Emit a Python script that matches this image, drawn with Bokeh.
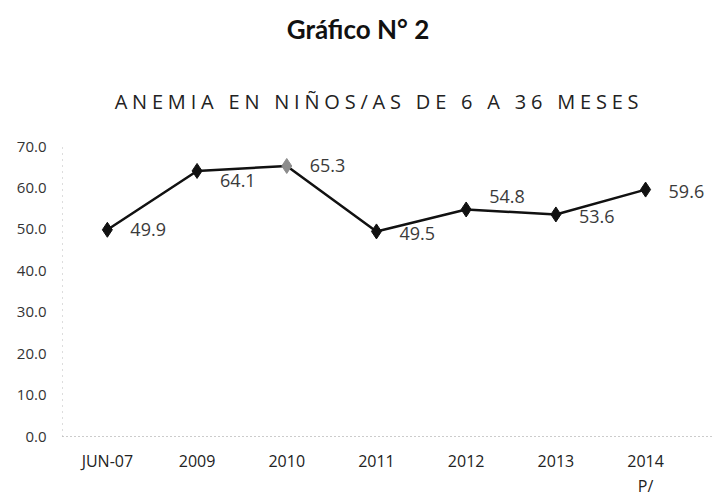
from bokeh.plotting import figure
from bokeh.models import Div, ColumnDataSource, Range1d, FixedTicker, LabelSet, NumeralTickFormatter
from bokeh.layouts import column
from bokeh.embed import file_html
from bokeh.resources import INLINE
from bokeh.core.properties import value

# ---- data ----
categories = ["JUN-07", "2009", "2010", "2011", "2012", "2013", "2014\nP/"]
values = [49.9, 64.1, 65.3, 49.5, 54.8, 53.6, 59.6]
value_labels = ["49.9", "64.1", "65.3", "49.5", "54.8", "53.6", "59.6"]
y_ticks = [0, 10, 20, 30, 40, 50, 60, 70]
title_text = "Gráfico N° 2"
subtitle_text = "ANEMIA EN NIÑOS/AS DE 6 A 36 MESES"

# ---- styles ----
label_dy = [0, -10, 0, -2, 13, -2, -2]
marker_colors = ["#111111", "#111111", "#8c8c8c", "#111111", "#111111", "#111111", "#111111"]

xs = list(range(len(categories)))
src = ColumnDataSource(dict(x=xs, val=values, lbl=value_labels,
                            dy=label_dy, mc=marker_colors))

header = Div(
    text=(
        '<div style="position:relative;width:704px;height:118px;">'
        f'<div style="position:absolute;top:11px;left:10px;width:696px;text-align:center;'
        f'font-family:Lato;font-weight:bold;font-size:26px;color:#111;">{title_text}</div>'
        f'<div style="position:absolute;top:88px;left:31px;width:696px;text-align:center;'
        f'font-family:\'Open Sans\';font-size:20px;letter-spacing:4.8px;color:#222;white-space:nowrap;">{subtitle_text}</div>'
        '</div>'
    ),
    width=704, height=118, margin=0,
)

p = figure(x_range=Range1d(-0.5, 6.746), y_range=Range1d(0, 70), width=712, height=374,
           output_backend="svg", toolbar_location=None,
           min_border_left=62, min_border_right=0, min_border_top=28, min_border_bottom=56)
p.frame_height = 290
p.outline_line_color = None
p.xgrid.grid_line_color = None
p.ygrid.grid_line_color = None
p.background_fill_color = "white"

p.yaxis.ticker = FixedTicker(ticks=y_ticks)
p.yaxis.formatter = NumeralTickFormatter(format="0.0")
p.yaxis.major_label_text_font = "Open Sans"
p.yaxis.major_label_text_font_size = "15px"
p.yaxis.major_label_text_color = "#333333"
p.yaxis.major_label_standoff = 16
p.yaxis.major_tick_out = 0
p.yaxis.major_tick_line_color = None
p.yaxis.minor_tick_line_color = None
p.yaxis.axis_line_color = "#bbbbbb"
p.yaxis.axis_line_dash = "1 5"

p.xaxis.ticker = FixedTicker(ticks=xs, minor_ticks=[])
p.xaxis.major_label_overrides = {i: c for i, c in zip(xs, categories)}
p.xaxis.major_label_text_font = "Open Sans"
p.xaxis.major_label_text_font_size = "16px"
p.xaxis.major_label_text_line_height = 1.15
p.xaxis.major_label_text_color = "#222222"
p.xaxis.major_label_standoff = 13
p.xaxis.major_tick_out = 0
p.xaxis.major_tick_line_color = None
p.xaxis.minor_tick_line_color = None
p.xaxis.axis_line_color = "#999999"
p.xaxis.axis_line_dash = "1 3"

p.line("x", "val", source=src, line_color="#111111", line_width=2.5)
p.scatter("x", "val", source=src, marker="diamond", size=15,
          fill_color="mc", line_color="mc")

labels = LabelSet(x="x", y="val", text="lbl", source=src, x_offset=23, y_offset="dy",
                  text_baseline="middle", text_align="left",
                  text_font=value("Open Sans"), text_font_size="18px", text_color="#3a3a3a")
p.add_layout(labels)

layout = column(header, p, spacing=0, margin=0)
open("out.html", "w").write(file_html(layout, INLINE))
